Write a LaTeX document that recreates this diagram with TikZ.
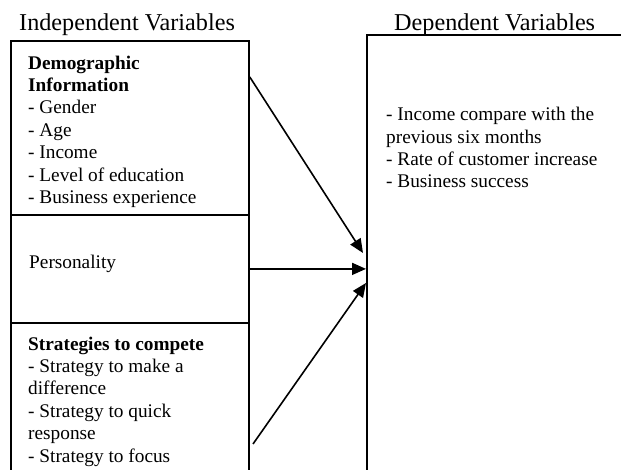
\documentclass[tikz,border=0pt]{standalone}
\usepackage{fontspec}
\setmainfont{Liberation Serif}
\usetikzlibrary{arrows.meta,calc}
\begin{document}
\begin{tikzpicture}[x=1pt,y=-1pt,
  box/.style={draw, line width=1.8pt, rectangle, inner sep=0pt, anchor=north west},
  txt/.style={anchor=north west, inner sep=0pt, align=left, font=\fontsize{19.3}{22.4}\selectfont},
  ttl/.style={anchor=base west, inner sep=0pt, font=\fontsize{24.2}{28}\selectfont},
  arr/.style={-{Triangle[length=14pt,width=12pt]}, line width=1.6pt}]
\useasboundingbox (0,0) rectangle (621,470);
\clip (0,0) rectangle (621,470);
% titles
\node[ttl] (ttlind) at (19,30.7) {Independent Variables};
\node[ttl] (ttldep) at (394,30.7) {Dependent Variables};
% boxes
\node[box, minimum width=238pt, minimum height=174pt] (demo) at (10,40) {};
\node[box, minimum width=238pt, minimum height=108pt] (pers) at (10,214) {};
\node[box, minimum width=238pt, minimum height=220pt] (strat) at (10,322) {};
\node[box, minimum width=300pt, minimum height=500pt] (dep) at (366,34) {};
% texts
\node[txt] (demotxt) at (28,53.3) {\strut\textbf{Demographic}\\\textbf{Information}\\- Gender\\- Age\\- Income\\- Level of education\\- Business experience};
\node[txt] (perstxt) at (29,252.5) {\strut Personality};
\node[txt] (strattxt) at (28,334.3) {\strut\textbf{Strategies to compete}\\- Strategy to make a\\difference\\- Strategy to quick\\response\\- Strategy to focus};
\node[txt] (deptxt) at (386,104.8) {\strut - Income compare with the\\previous six months\\- Rate of customer increase\\- Business success};
% connectors
\coordinate (s1) at ($(demo.north east)+(0,37)$);
\coordinate (e1) at ($(dep.north west)+(-3,219)$);
\coordinate (s3) at (253,444);
\coordinate (e3) at ($(dep.north west)+(0,249)$);
\draw[arr] (s1) -- (e1);
\draw[arr] (pers.east) -- (pers.east -| dep.west);
\draw[arr] (s3) -- (e3);
\end{tikzpicture}
\end{document}
